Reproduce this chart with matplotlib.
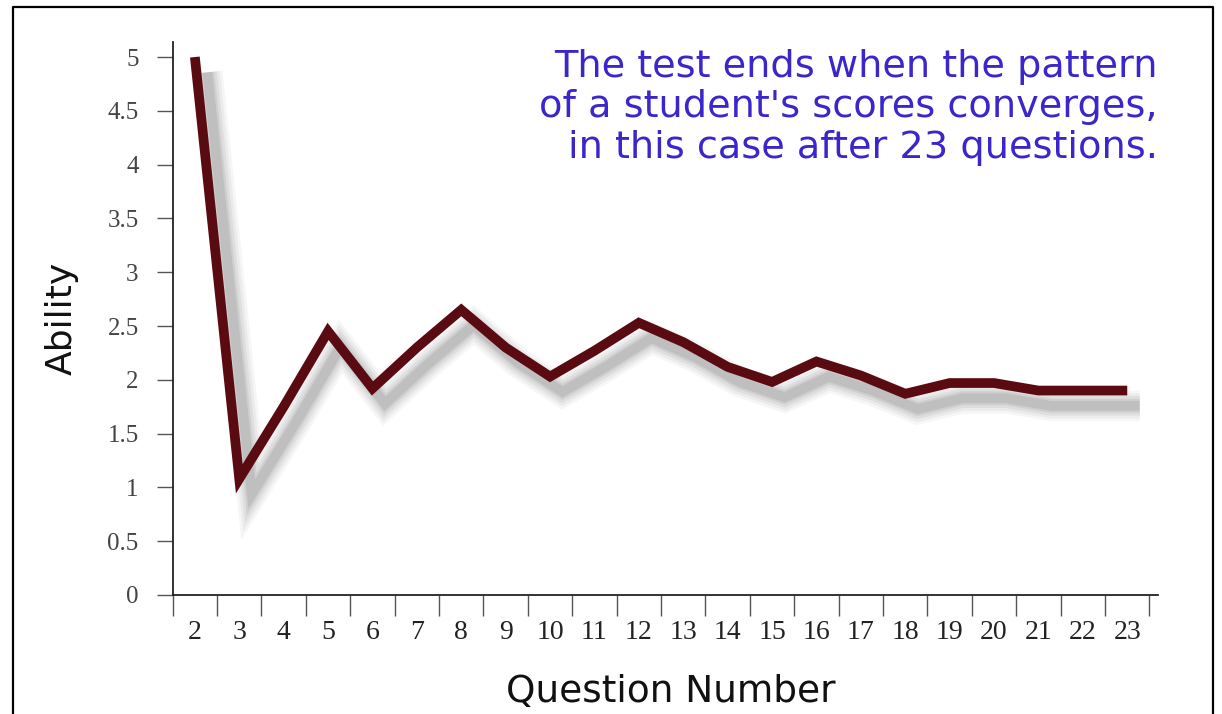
import matplotlib.pyplot as plt
import matplotlib.patheffects as pe
from matplotlib.lines import Line2D
import numpy as np

# Data
questions = [2, 3, 4, 5, 6, 7, 8, 9, 10, 11, 12, 13, 14, 15, 16, 17, 18, 19, 20, 21, 22, 23]
ability = [5.0, 1.08, 1.75, 2.45, 1.92, 2.3, 2.65, 2.3, 2.03, 2.27, 2.53, 2.35,
           2.12, 1.98, 2.17, 2.04, 1.87, 1.97, 1.97, 1.9, 1.9, 1.9]
y_ticks = [0, 0.5, 1, 1.5, 2, 2.5, 3, 3.5, 4, 4.5, 5]
y_ticklabels = ['0', '0.5', '1', '1.5', '2', '2.5', '3', '3.5', '4', '4.5', '5']
note = ("The test ends when the pattern\n"
        "of a student's scores converges,\n"
        "in this case after 23 questions.")

line_color = '#5a0b12'
note_color = '#3a26cc'
tick_color = '#555555'

fig = plt.figure(figsize=(12.22, 7.14), dpi=100)
ax = fig.add_axes([0.1413, 0.1667, 0.8066, 0.7745])

# line with a soft grey drop shadow (stacked shadows to fake a blur)
shadows = []
for lw, a in [(22, 0.06), (18, 0.08), (14, 0.10), (10, 0.13), (7, 0.16)]:
    shadows.append(pe.SimpleLineShadow(offset=(9, -11), shadow_color='#6f6f6f',
                                       alpha=a, linewidth=lw))
ax.plot(questions, ability, color=line_color, linewidth=7,
        solid_joinstyle='miter', solid_capstyle='butt',
        path_effects=shadows + [pe.Normal()])

ax.set_xlim(1.5, 23.7)
ax.set_ylim(0, 5.14)

# spines
for s in ['top', 'right']:
    ax.spines[s].set_visible(False)
ax.spines['left'].set_color('#222222')
ax.spines['bottom'].set_color('#222222')
ax.spines['left'].set_linewidth(1.3)
ax.spines['bottom'].set_linewidth(1.3)

# y axis
ax.set_yticks(y_ticks)
ax.set_yticklabels(y_ticklabels, family='Liberation Serif', fontsize=18, color='#444444')
ax.tick_params(axis='y', direction='out', length=11.5, width=1, color=tick_color, pad=13)

# x axis: labels at the question numbers, tick marks between them
ax.set_xticks(questions)
ax.set_xticklabels([str(q) for q in questions], family='Liberation Serif',
                   fontsize=20, color='#222222')
ax.set_xticks(np.arange(1.5, 24, 1), minor=True)
ax.tick_params(axis='x', which='major', length=0, pad=18)
ax.tick_params(axis='x', which='minor', direction='out', length=15, width=1, color=tick_color)

ax.set_ylabel('Ability', fontsize=26, color='#111111')
ax.yaxis.set_label_coords(-0.095, 0.5)
ax.set_xlabel('Question Number', fontsize=27, color='#111111')
ax.xaxis.set_label_coords(0.5055, -0.142)

fig.text(0.9476, 0.932, note, ha='right', va='top', fontsize=27.5,
         color=note_color, linespacing=1.17)

# outer frame
fx0, fx1 = 13 / 1222, 1213 / 1222
fy1 = 1 - 7 / 714
fig.add_artist(Line2D([fx0, fx0, fx1, fx1], [0, fy1, fy1, 0], color='black', linewidth=1.6))

fig.savefig('out.png', dpi=100)
